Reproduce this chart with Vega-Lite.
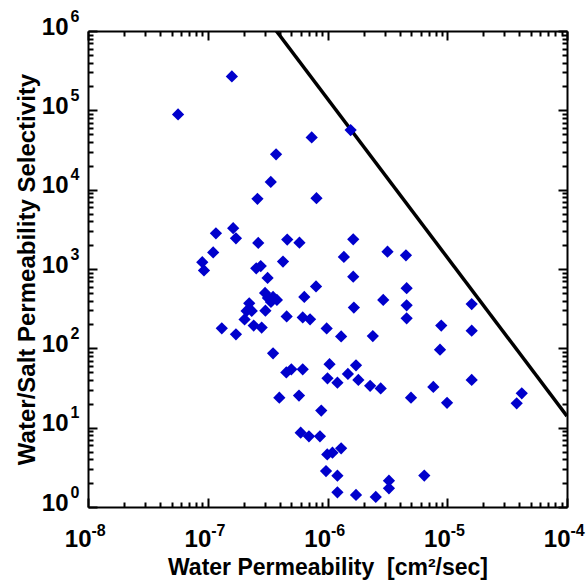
{
  "$schema": "https://vega.github.io/schema/vega-lite/v6.json",
  "autosize": "none",
  "width": 479,
  "height": 476,
  "padding": {"left": 88, "top": 31, "right": 21, "bottom": 74},
  "background": "white",
  "config": {"view": {"stroke": null}, "axis": {"grid": false, "labelFlush": false, "labelOverlap": false, "labelBound": false, "tickColor": "black", "domainColor": "black", "labelColor": "black", "titleColor": "black", "labelFont": "Liberation Sans", "titleFont": "Liberation Sans", "labelFontWeight": "bold", "titleFontWeight": "bold"}},
  "datasets": {
    "pts": [
      {"x": 5.65e-8, "y": 88700}, {"x": 1.59e-7, "y": 267000}, {"x": 1.56e-6, "y": 56500}, {"x": 7.38e-7, "y": 45500},
      {"x": 3.72e-7, "y": 27900}, {"x": 3.36e-7, "y": 12500}, {"x": 2.60e-7, "y": 7670}, {"x": 8.09e-7, "y": 7810},
      {"x": 1.17e-7, "y": 2820}, {"x": 1.63e-7, "y": 3270}, {"x": 1.72e-7, "y": 2440}, {"x": 2.64e-7, "y": 2130},
      {"x": 4.61e-7, "y": 2350}, {"x": 5.83e-7, "y": 2150}, {"x": 1.11e-7, "y": 1620}, {"x": 9.0e-8, "y": 1220},
      {"x": 9.3e-8, "y": 958}, {"x": 2.54e-7, "y": 1020}, {"x": 2.77e-7, "y": 1090}, {"x": 4.25e-7, "y": 1240},
      {"x": 3.16e-7, "y": 771}, {"x": 3.01e-7, "y": 499}, {"x": 3.18e-7, "y": 431}, {"x": 3.51e-7, "y": 444},
      {"x": 3.78e-7, "y": 407}, {"x": 3.37e-7, "y": 384}, {"x": 6.40e-7, "y": 444}, {"x": 2.22e-7, "y": 370},
      {"x": 2.11e-7, "y": 296}, {"x": 2.33e-7, "y": 296}, {"x": 3.03e-7, "y": 298}, {"x": 2.03e-7, "y": 231},
      {"x": 4.56e-7, "y": 252}, {"x": 6.21e-7, "y": 245}, {"x": 7.15e-7, "y": 232}, {"x": 1.31e-7, "y": 179},
      {"x": 1.72e-7, "y": 150}, {"x": 2.42e-7, "y": 194}, {"x": 2.82e-7, "y": 183}, {"x": 3.51e-7, "y": 86.6},
      {"x": 4.53e-7, "y": 49.6}, {"x": 4.99e-7, "y": 54.4}, {"x": 6.21e-7, "y": 54.4}, {"x": 3.96e-7, "y": 23.9},
      {"x": 5.78e-7, "y": 25.4}, {"x": 5.97e-7, "y": 8.64}, {"x": 7.0e-7, "y": 7.79}, {"x": 8.65e-7, "y": 7.79},
      {"x": 8.87e-7, "y": 16.4}, {"x": 9.95e-7, "y": 4.59}, {"x": 1.10e-6, "y": 4.84}, {"x": 1.30e-6, "y": 5.5},
      {"x": 9.72e-7, "y": 2.84}, {"x": 1.21e-6, "y": 2.48}, {"x": 1.21e-6, "y": 1.53}, {"x": 1.73e-6, "y": 1.42},
      {"x": 2.53e-6, "y": 1.34}, {"x": 3.26e-6, "y": 2.15}, {"x": 3.26e-6, "y": 1.72}, {"x": 6.43e-6, "y": 2.49},
      {"x": 9.84e-7, "y": 178}, {"x": 1.30e-6, "y": 141}, {"x": 2.39e-6, "y": 143}, {"x": 1.04e-6, "y": 63.1},
      {"x": 1.73e-6, "y": 61.1}, {"x": 1.0e-6, "y": 41.9}, {"x": 1.21e-6, "y": 36.9}, {"x": 1.48e-6, "y": 47.5},
      {"x": 1.81e-6, "y": 39.9}, {"x": 2.27e-6, "y": 33.7}, {"x": 2.78e-6, "y": 31.2}, {"x": 4.98e-6, "y": 23.9},
      {"x": 7.65e-6, "y": 32.6}, {"x": 9.96e-6, "y": 20.6}, {"x": 1.60e-5, "y": 39.9}, {"x": 3.80e-5, "y": 20.3},
      {"x": 4.19e-5, "y": 27.1}, {"x": 1.60e-5, "y": 362}, {"x": 8.91e-6, "y": 194}, {"x": 1.60e-5, "y": 167},
      {"x": 8.70e-6, "y": 96.1}, {"x": 1.64e-6, "y": 2370}, {"x": 1.37e-6, "y": 1420}, {"x": 3.17e-6, "y": 1650},
      {"x": 4.52e-6, "y": 1490}, {"x": 1.64e-6, "y": 800}, {"x": 8.02e-7, "y": 602}, {"x": 4.58e-6, "y": 573},
      {"x": 2.92e-6, "y": 407}, {"x": 4.58e-6, "y": 349}, {"x": 1.66e-6, "y": 327}, {"x": 4.58e-6, "y": 239}
    ],
    "bound": [
      {"x": 3.74e-7, "y": 1000000},
      {"x": 1e-4, "y": 14}
    ]
  },
  "resolve": {"axis": {"x": "independent", "y": "independent"}},
  "layer": [
    {
      "data": {"name": "bound"},
      "mark": {"type": "line", "color": "black", "strokeWidth": 3.5, "clip": true},
      "encoding": {
        "x": {"field": "x", "type": "quantitative", "scale": {"type": "log", "domain": [1e-8, 1e-4], "nice": false},
          "axis": {"orient": "bottom", "title": null, "labels": false, "domain": false, "tickSize": -5, "tickWidth": 2,
            "values": [2e-8,3e-8,4e-8,5e-8,6e-8,7e-8,8e-8,9e-8,2e-7,3e-7,4e-7,5e-7,6e-7,7e-7,8e-7,9e-7,2e-6,3e-6,4e-6,5e-6,6e-6,7e-6,8e-6,9e-6,2e-5,3e-5,4e-5,5e-5,6e-5,7e-5,8e-5,9e-5]}},
        "y": {"field": "y", "type": "quantitative", "scale": {"type": "log", "domain": [1, 1000000], "nice": false},
          "axis": {"orient": "left", "title": null, "labels": false, "domain": false, "tickSize": -5, "tickWidth": 2,
            "values": [2,3,4,5,6,7,8,9,20,30,40,50,60,70,80,90,200,300,400,500,600,700,800,900,2000,3000,4000,5000,6000,7000,8000,9000,20000,30000,40000,50000,60000,70000,80000,90000,200000,300000,400000,500000,600000,700000,800000,900000]}}
      }
    },
    {
      "data": {"name": "pts"},
      "mark": {"type": "point", "opacity": 0},
      "encoding": {
        "x": {"field": "x", "type": "quantitative", "scale": {"type": "log", "domain": [1e-8, 1e-4], "nice": false},
          "axis": {"orient": "top", "title": null, "labels": false, "domain": false, "tickSize": -5, "tickWidth": 2,
            "values": [2e-8,3e-8,4e-8,5e-8,6e-8,7e-8,8e-8,9e-8,2e-7,3e-7,4e-7,5e-7,6e-7,7e-7,8e-7,9e-7,2e-6,3e-6,4e-6,5e-6,6e-6,7e-6,8e-6,9e-6,2e-5,3e-5,4e-5,5e-5,6e-5,7e-5,8e-5,9e-5]}},
        "y": {"field": "y", "type": "quantitative", "scale": {"type": "log", "domain": [1, 1000000], "nice": false},
          "axis": {"orient": "right", "title": null, "labels": false, "domain": false, "tickSize": -5, "tickWidth": 2,
            "values": [2,3,4,5,6,7,8,9,20,30,40,50,60,70,80,90,200,300,400,500,600,700,800,900,2000,3000,4000,5000,6000,7000,8000,9000,20000,30000,40000,50000,60000,70000,80000,90000,200000,300000,400000,500000,600000,700000,800000,900000]}}
      }
    },
    {
      "data": {"name": "pts"},
      "mark": {"type": "point", "opacity": 0},
      "encoding": {
        "x": {"field": "x", "type": "quantitative", "scale": {"type": "log", "domain": [1e-8, 1e-4], "nice": false},
          "axis": {"orient": "top", "title": null, "labels": false, "domain": true, "domainWidth": 2, "tickSize": -9, "tickWidth": 2,
            "values": [1e-8, 1e-7, 1e-6, 1e-5, 1e-4]}},
        "y": {"field": "y", "type": "quantitative", "scale": {"type": "log", "domain": [1, 1000000], "nice": false},
          "axis": {"orient": "right", "title": null, "labels": false, "domain": true, "domainWidth": 2, "tickSize": -9, "tickWidth": 2,
            "values": [1, 10, 100, 1000, 10000, 100000, 1000000]}}
      }
    },
    {
      "data": {"name": "pts"},
      "mark": {"type": "point", "opacity": 0},
      "encoding": {
        "x": {"field": "x", "type": "quantitative", "scale": {"type": "log", "domain": [1e-8, 1e-4], "nice": false},
          "axis": {"orient": "bottom", "ticks": false, "domain": false, "values": [1e-8, 1e-7, 1e-6, 1e-5, 1e-4],
            "labelExpr": "'10'", "labelAlign": "right", "labelBaseline": "alphabetic", "labelPadding": 39, "labelOffset": 3, "labelFontSize": 24,
            "title": "Water Permeability\u00a0 [cm²/sec]", "titleFontSize": 23, "titlePadding": 5}},
        "y": {"field": "y", "type": "quantitative", "scale": {"type": "log", "domain": [1, 1000000], "nice": false},
          "axis": {"orient": "left", "ticks": false, "domain": false, "values": [1, 10, 100, 1000, 10000, 100000, 1000000],
            "labelExpr": "'10'", "labelAlign": "right", "labelBaseline": "alphabetic", "labelPadding": 20, "labelOffset": 3, "labelFontSize": 24,
            "title": "Water/Salt Permeability Selectivity", "titleFontSize": 24, "titlePadding": 2}}
      }
    },
    {
      "data": {"name": "pts"},
      "mark": {"type": "point", "opacity": 0},
      "encoding": {
        "x": {"field": "x", "type": "quantitative", "scale": {"type": "log", "domain": [1e-8, 1e-4], "nice": false},
          "axis": {"orient": "bottom", "ticks": false, "domain": false, "values": [1e-8, 1e-7, 1e-6, 1e-5, 1e-4], "title": null,
            "labelExpr": "'' + round(log(datum.value) / LN10)", "labelAlign": "left", "labelBaseline": "alphabetic", "labelPadding": 28, "labelOffset": 3, "labelFontSize": 16}},
        "y": {"field": "y", "type": "quantitative", "scale": {"type": "log", "domain": [1, 1000000], "nice": false},
          "axis": {"orient": "left", "ticks": false, "domain": false, "values": [1, 10, 100, 1000, 10000, 100000, 1000000], "title": null,
            "labelExpr": "'' + round(log(datum.value) / LN10)", "labelAlign": "right", "labelBaseline": "alphabetic", "labelPadding": 9, "labelOffset": -10, "labelFontSize": 16}}
      }
    },
    {
      "data": {"name": "pts"},
      "mark": {"type": "point", "shape": "diamond", "filled": true, "color": "#0000CC", "opacity": 1, "size": 150},
      "encoding": {
        "x": {"field": "x", "type": "quantitative", "scale": {"type": "log", "domain": [1e-8, 1e-4], "nice": false},
          "axis": {"orient": "bottom", "title": null, "labels": false, "domain": true, "domainWidth": 2, "tickSize": -9, "tickWidth": 2,
            "values": [1e-8, 1e-7, 1e-6, 1e-5, 1e-4]}},
        "y": {"field": "y", "type": "quantitative", "scale": {"type": "log", "domain": [1, 1000000], "nice": false},
          "axis": {"orient": "left", "title": null, "labels": false, "domain": true, "domainWidth": 2, "tickSize": -9, "tickWidth": 2,
            "values": [1, 10, 100, 1000, 10000, 100000, 1000000]}}
      }
    }
  ]
}
